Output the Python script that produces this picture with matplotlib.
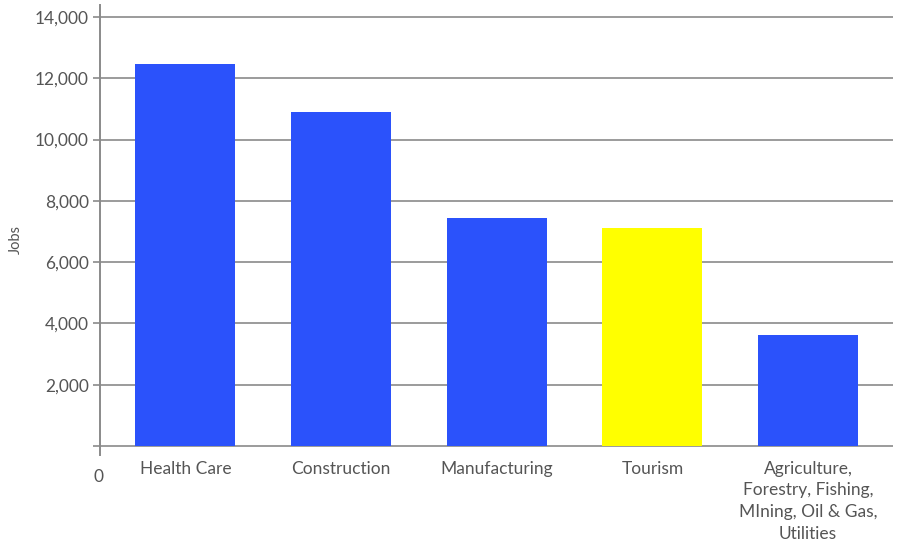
import matplotlib
matplotlib.use('Agg')
import matplotlib.pyplot as plt

categories = ["Health Care", "Construction", "Manufacturing", "Tourism",
              "Agriculture,\nForestry, Fishing,\nMIning, Oil & Gas,\nUtilities"]
jobs = [12480, 10900, 7440, 7120, 3620]
colors = ["#2b52fb", "#2b52fb", "#2b52fb", "#ffff00", "#2b52fb"]
yticks = [0, 2000, 4000, 6000, 8000, 10000, 12000, 14000]
ytick_labels = ["", "2,000", "4,000", "6,000", "8,000", "10,000", "12,000", "14,000"]

plt.rcParams['font.family'] = ['Lato', 'DejaVu Sans']
text_color = "#555555"
line_color = "#8a8a8a"

W, H = 901, 548
fig = plt.figure(figsize=(W / 100, H / 100), dpi=100)
ax = fig.add_axes([100 / W, 1 - 455 / H, 793 / W, 450 / H])

x = list(range(len(categories)))
ax.bar(x, jobs, width=0.642, color=colors, zorder=3)

ax.set_xlim(-0.548, 4.545)
ax.set_ylim(-290, 14390)

ax.set_yticks(yticks)
ax.set_yticklabels(ytick_labels)
for t in yticks:
    ax.axhline(t, color=line_color, lw=1.2, zorder=1)

ax.set_xticks(x)
ax.set_xticklabels(categories, linespacing=1.45)
ax.tick_params(axis='x', length=0, pad=4, labelsize=12.5, labelcolor=text_color)
ax.tick_params(axis='y', length=5, width=1.2, color=line_color, pad=3,
               labelsize=12.5, labelcolor=text_color)

for side in ['top', 'right', 'bottom']:
    ax.spines[side].set_visible(False)
ax.spines['left'].set_color(line_color)
ax.spines['left'].set_linewidth(1.4)

# axis title and the lone "0" sit outside the usual spots
fig.text(16 / W, 1 - 240 / H, "Jobs", rotation=90, ha='center', va='center',
         color=text_color, fontsize=10.5)
fig.text(98 / W, 1 - 477 / H, "0", ha='center', va='center',
         color=text_color, fontsize=12.5)

fig.savefig("out.png", dpi=100, facecolor="white")
